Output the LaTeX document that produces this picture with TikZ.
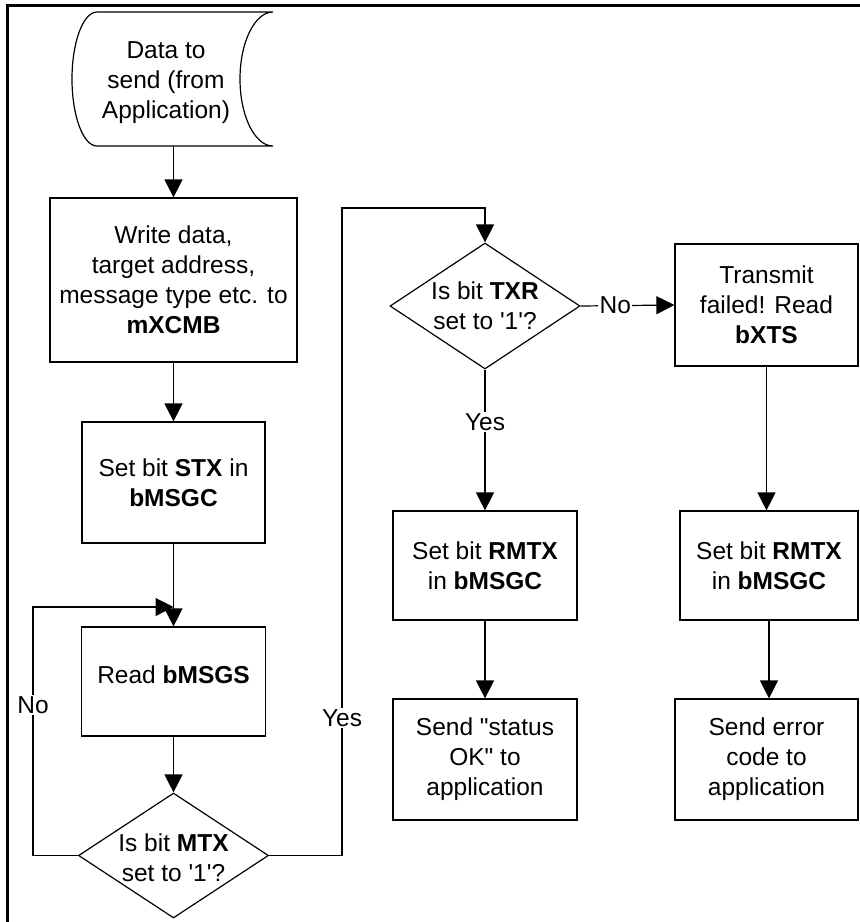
\documentclass[tikz,border=0pt]{standalone}
\usepackage{fontspec}
\setmainfont{Liberation Sans}[Ligatures=TeXOff]
\usetikzlibrary{arrows.meta,shapes.geometric}
\begin{document}
\begin{tikzpicture}[x=1pt,y=-1pt,
  every node/.style={font=\fontsize{24.5pt}{30pt}\selectfont, inner sep=0pt},
  box/.style={draw, line width=1.2pt, rectangle, align=center},
  dia/.style={draw, line width=1.2pt, diamond, inner sep=0pt},
  txt/.style={align=center},
  lbl/.style={fill=white, inner sep=1.5pt},
  conn/.style={line width=1.2pt},
  arr/.style={conn, -{Triangle[width=18pt,length=18pt]}},
  frame/.style={line width=3pt}]
\useasboundingbox (0,0) rectangle (860,922);
% frame
\draw[frame] (7.5,922) -- (7.5,5) -- (860,5);
% storage shape
\draw[conn] (97,12) -- (273,12)
  .. controls (254.8,12) and (240,42) .. (240,79)
  .. controls (240,116) and (254.8,146) .. (273,146)
  -- (97,146)
  .. controls (83.2,146) and (72,116) .. (72,79)
  .. controls (72,42) and (83.2,12) .. (97,12) -- cycle;
\node[txt] (data) at (166,83) {Data to\\send (from\\Application)};
\coordinate (databot) at (173.5,146);
% left column
\node[box, minimum width=247pt, minimum height=164pt] (b1) at (173.5,280) {Write data,\\target address,\\message type etc. to\\\textbf{mXCMB}};
\node[box, minimum width=183pt, minimum height=121pt] (b2) at (173.5,482.5) {Set bit \textbf{STX} in\\\textbf{bMSGC}};
\node[box, minimum width=184pt, minimum height=109pt, text depth=14pt] (rd) at (173.5,681.5) {Read \textbf{bMSGS}};
\node[dia, minimum width=190pt, minimum height=125pt] (d1) at (173.5,855.5) {};
\node[txt] (d1t) at (173.5,858) {Is bit \textbf{MTX}\\set to '1'?};
% middle column
\node[dia, minimum width=190pt, minimum height=126pt] (d2) at (485,306) {};
\node[txt] (d2t) at (485,306) {Is bit \textbf{TXR}\\set to '1'?};
\node[box, minimum width=184pt, minimum height=109pt] (rm1) at (485,565.5) {Set bit \textbf{RMTX}\\in \textbf{bMSGC}};
\node[box, minimum width=184pt, minimum height=121pt] (ok) at (485,759.5) {Send "status\\OK" to\\application};
% right column
\node[box, minimum width=183pt, minimum height=122pt] (tf) at (766.5,305) {Transmit\\failed! Read\\\textbf{bXTS}};
\node[box, minimum width=178pt, minimum height=109pt] (rm2) at (769,565.5) {Set bit \textbf{RMTX}\\in \textbf{bMSGC}};
\node[box, minimum width=183pt, minimum height=121pt] (se) at (766.5,759.5) {Send error\\code to\\application};
% connectors
\coordinate (join) at (173.5,607);
\coordinate (lc) at (33,607);
\coordinate (ry) at (342,208);
\draw[arr] (databot) -- (b1.north);
\draw[arr] (b1) -- (b2);
\draw[arr] (b2) -- (rd);
\draw[arr] (rd) -- (d1.north);
\draw[arr] (d1.west) -| (lc) -- (join);
\draw[arr] (d1.east) -| (ry) -| (d2.north);
\node[lbl] (lno) at (33,705) {No};
\node[lbl] (lyes) at (342,718) {Yes};
\draw[arr] (d2.east) -- node[lbl, pos=0.37] (lno2) {No} (tf.west);
\draw[arr] (d2.south) -- node[lbl, pos=0.37] (lyes2) {Yes} (rm1.north);
\draw[arr] (rm1) -- (ok);
\draw[arr] (tf.south) -- (tf.south |- rm2.north);
\draw[arr] (rm2.south) -- (rm2.south |- se.north);
\end{tikzpicture}
\end{document}
